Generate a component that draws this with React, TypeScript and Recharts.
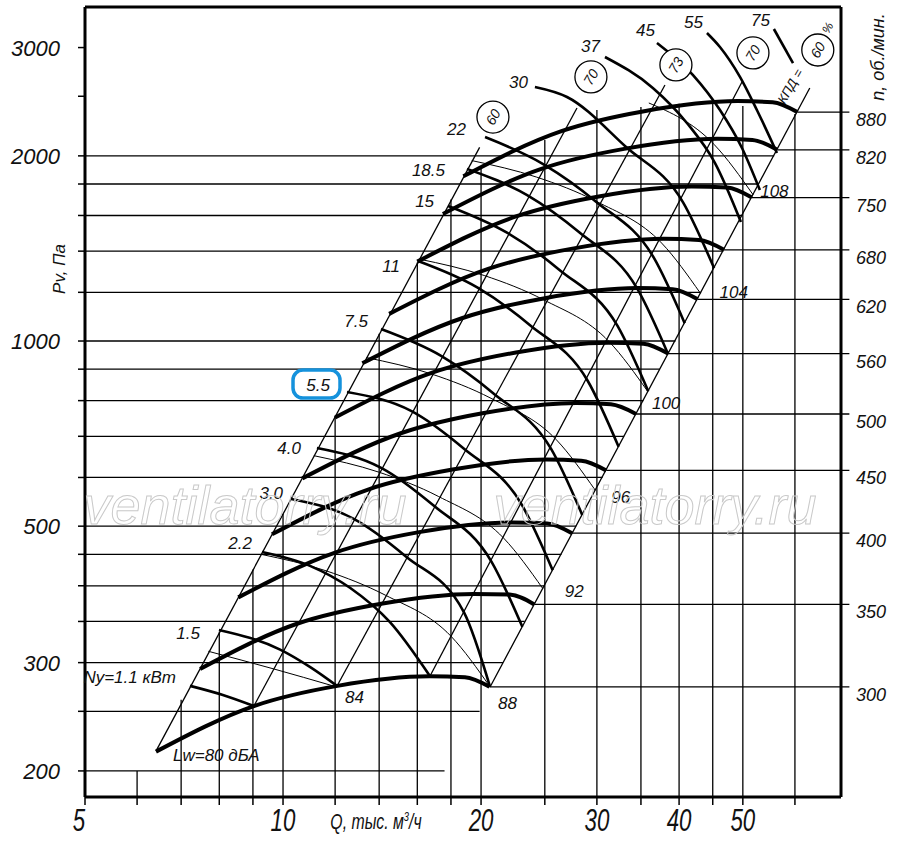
import React from 'react';
import { LineChart, Line, XAxis, YAxis, ReferenceLine, ReferenceDot } from 'recharts';

const FONT = "'Liberation Sans', Arial, 'DejaVu Sans', sans-serif";
const NARROW = "'Liberation Sans Narrow', 'Liberation Sans', Arial, sans-serif";

// axes
const qTicks = [5, 6, 7, 8, 9, 10, 12, 14, 16, 18, 20, 25, 30, 35, 40, 45, 50, 60];
const qLabels = [5, 10, 20, 30, 40, 50];
const pTicks = [200, 250, 300, 350, 400, 450, 500, 600, 700, 800, 900, 1000, 1200, 1400, 1600, 1800, 2000, 2500, 3000];
const pLabels = [200, 300, 500, 1000, 2000, 3000];

// grid: horizontal Pa lines (end on the right 60% line), vertical Q lines (top end)
const gridP = [200, 250, 300, 350, 400, 450, 500, 600, 700, 800, 900, 1000, 1200, 1400, 1600, 1800, 2000];
const gridPEnd = [17.6, 19.9, 21.6, 23.3, 25.0, 26.5, 27.9, 30.6, 33.0, 35.3, 37.4, 39.5, 43.2, 46.7, 49.9, 52.9, 55.8];
const gridQ = [6, 7, 8, 9, 10, 12, 14, 16, 18, 20, 25, 30, 35, 40, 45, 50, 60];
const gridQTop = [200, 261, 336, 425, 524, 755, 1028, 1342, 1699, 1911, 2122, 2375, 2401, 2430, 2430, 2410, 2339];

// rpm curves n, об./мин.
const rpm = [300, 350, 400, 450, 500, 560, 620, 680, 750, 820, 880];
const rpmQ = [
  [6.41, 9.03, 12.1, 16.7, 18.9, 20.6],
  [7.48, 10.5, 14.1, 19.5, 22.1, 24.1],
  [8.55, 12.0, 16.1, 22.3, 25.2, 27.5],
  [9.62, 13.5, 18.1, 25.1, 28.4, 31.0],
  [10.7, 15.1, 20.1, 27.9, 31.5, 34.4],
  [12.0, 16.9, 22.6, 31.2, 35.3, 38.5],
  [13.2, 18.7, 25.0, 34.6, 39.1, 42.7],
  [14.5, 20.5, 27.4, 37.9, 42.9, 46.8],
  [16.0, 22.6, 30.2, 41.8, 47.3, 51.6],
  [17.5, 24.7, 33.0, 45.7, 51.7, 56.4],
  [18.8, 26.5, 35.4, 49.1, 55.5, 60.5],
];
const rpmP = [
  [215, 255, 275, 285, 284, 274],
  [293, 347, 374, 388, 387, 373],
  [383, 453, 489, 507, 505, 487],
  [485, 574, 618, 642, 639, 616],
  [598, 708, 763, 793, 789, 761],
  [751, 889, 958, 994, 990, 954],
  [920, 1089, 1174, 1219, 1214, 1169],
  [1107, 1310, 1412, 1466, 1460, 1407],
  [1346, 1594, 1718, 1783, 1776, 1711],
  [1609, 1905, 2053, 2132, 2123, 2046],
  [1853, 2194, 2364, 2455, 2445, 2356],
];

// power curves Ny, кВт
const powerN = ['1.1', '1.5', '2.2', '3.0', '4.0', '5.5', '7.5', '11', '15', '18.5', '22', '30', '37', '45', '55', '75'];
const powerQ = [
  [7.22, 8.08, 9.03],
  [7.99, 9.9, 11.0, 12.08],
  [9.29, 10.99, 12.64, 14.54, 16.73],
  [10.25, 12.81, 15.39, 18.84, 20.64],
  [11.26, 14.1, 16.94, 20.74, 23.11],
  [12.51, 15.68, 18.84, 23.06, 25.7],
  [14.09, 17.39, 20.89, 25.57, 28.49],
  [16.04, 19.76, 23.74, 29.06, 32.37],
  [17.82, 21.9, 26.32, 32.23, 35.9],
  [19.04, 23.5, 28.23, 34.55, 38.5],
  [20.28, 24.89, 29.91, 36.61, 40.79],
  [24.15, 27.02, 33.16, 40.58, 45.21],
  [30.86, 36.49, 41.11, 45.36, 49.66],
  [37.02, 42.0, 46.15, 49.85, 53.07],
  [44.1, 46.15, 49.5, 52.52, 56.34],
  [55.74, 59.6],
];
const powerP = [
  [275, 266, 255],
  [339, 315, 295, 275],
  [454, 431, 397, 349, 285],
  [554, 514, 446, 362, 274],
  [670, 622, 540, 438, 343],
  [826, 769, 668, 542, 424],
  [1046, 946, 822, 667, 522],
  [1349, 1221, 1061, 861, 673],
  [1658, 1500, 1305, 1059, 829],
  [1905, 1727, 1501, 1217, 952],
  [2146, 1938, 1685, 1366, 1069],
  [2588, 2493, 2071, 1679, 1314],
  [2896, 2579, 2262, 1947, 1562],
  [3052, 2707, 2375, 2060, 1760],
  [3168, 3006, 2688, 2375, 2022],
  [3216, 2831],
];

// noise curves Lw, дБА
const noiseL = ['84', '88', '92', '96', '100', '104', '108'];
const noiseQ = [
  [7.7, 9.68, 11.91],
  [9.26, 11.63, 14.32, 18.01, 20.64],
  [11.14, 13.99, 17.22, 21.65, 24.82],
  [13.39, 16.81, 20.71, 26.03, 29.83],
  [16.1, 20.22, 24.89, 31.3, 35.87],
  [19.36, 24.3, 29.93, 37.63, 43.12],
  [35.98, 45.24, 51.85],
];
const noiseP = [
  [313, 293, 275],
  [450, 423, 386, 331, 274],
  [651, 612, 559, 478, 396],
  [940, 884, 807, 691, 572],
  [1359, 1278, 1167, 998, 827],
  [1965, 1847, 1687, 1443, 1195],
  [2438, 2086, 1728],
];

// efficiency (КПД) lines
const effLabel = ['60', '70', '73', '70', '60'];
const effQ = [
  [6.41, 19.9],
  [9.03, 27.98],
  [12.08, 38.07],
  [16.73, 49.85],
  [20.64, 63.2],
];
const effP = [
  [215.4, 2065],
  [255, 2392],
  [274.8, 2608],
  [285.3, 2637],
  [273.8, 2579],
];
const effCircleQ = [20.85, 29.38, 39.56, 51.8, 65.0];
const effCircleP = [2313, 2688, 2811, 2940, 2973];

// label offsets (pixels, relative to the curve ends)
const powerLabelOffset = [
  [-14, -3], [-19, 9], [-10, -3], [-7, 0], [-16, 6], [-17, -1], [-13, -2], [-18, 11],
  [-14, 1], [-22, 7], [-19, -2], [-7, 1], [-5, -5], [-2, -7], [-4, -5], [-4, -3],
];
const noiseLabelOffset = [[12, 17], [8, 22], [22, 9], [16, 13], [4, 17], [19, 5], [7, 2]];

const Q_MIN = 5;
const Q_MAX = 70.5;
const P_MIN = 181.4;
const P_MAX = 3492;

const pts = (qs: number[], ps: number[]) => qs.map((q, i) => ({ q, p: ps[i] }));

const XTick = (props: any) => {
  const { x, y, payload } = props;
  if (!qLabels.includes(payload.value)) return <g />;
  const dx = payload.value === 5 ? -6 : 0;
  return (
    <text
      transform={`translate(${x + dx},${y + 24}) scale(0.72,1)`}
      textAnchor="middle"
      fontFamily={FONT}
      fontStyle="italic"
      fontSize={31}
      fill="#111"
    >
      {payload.value}
    </text>
  );
};

const YTick = (props: any) => {
  const { x, y, payload } = props;
  if (!pLabels.includes(payload.value)) return <g />;
  return (
    <text x={x - 16} y={y + 8} textAnchor="end" fontFamily={FONT} fontStyle="italic" fontSize={22} fill="#111">
      {payload.value}
    </text>
  );
};

const RpmTick = (props: any) => {
  const { x, y, index } = props;
  return (
    <text x={x + 30} y={y + 14} textAnchor="middle" fontFamily={FONT} fontStyle="italic" fontSize={18} fill="#111">
      {rpm[index]}
    </text>
  );
};

export default function App() {
  const rpmEnds = rpm.map((_, i) => rpmP[i][rpmP[i].length - 1]);
  const txt = { fontFamily: FONT, fontStyle: 'italic' as const, fill: '#111' };

  return (
    <div style={{ position: 'absolute', left: 0, top: 0, width: 900, height: 844, background: '#fff' }}>
      <LineChart width={900} height={844} margin={{ top: 0, right: 0, bottom: 0, left: 25 }}>
        <XAxis
          type="number"
          dataKey="q"
          scale="log"
          domain={[Q_MIN, Q_MAX]}
          allowDataOverflow
          ticks={qTicks}
          interval={0}
          height={47}
          tickSize={8}
          tickMargin={2}
          axisLine={{ stroke: '#000', strokeWidth: 3 }}
          tickLine={{ stroke: '#000', strokeWidth: 1.5 }}
          tick={<XTick />}
        />
        <XAxis
          xAxisId="top"
          orientation="top"
          type="number"
          scale="log"
          domain={[Q_MIN, Q_MAX]}
          allowDataOverflow
          height={7}
          tick={false}
          tickLine={false}
          axisLine={{ stroke: '#000', strokeWidth: 3 }}
        />
        <YAxis
          type="number"
          scale="log"
          domain={[P_MIN, P_MAX]}
          allowDataOverflow
          ticks={pTicks}
          interval={0}
          width={60}
          tickSize={7}
          tickMargin={2}
          axisLine={{ stroke: '#000', strokeWidth: 3 }}
          tickLine={{ stroke: '#000', strokeWidth: 1.5 }}
          tick={<YTick />}
        />
        <YAxis
          yAxisId="right"
          orientation="right"
          type="number"
          scale="log"
          domain={[P_MIN, P_MAX]}
          allowDataOverflow
          ticks={rpmEnds}
          interval={0}
          width={59}
          tickSize={0}
          tickMargin={0}
          tickLine={false}
          axisLine={{ stroke: '#000', strokeWidth: 3 }}
          tick={<RpmTick />}
        />

        {gridP.map((p, i) => (
          <ReferenceLine
            key={`gh${i}`}
            segment={[{ x: Q_MIN, y: p }, { x: gridPEnd[i], y: p }]}
            stroke="#000"
            strokeWidth={1.3}
            ifOverflow="visible"
          />
        ))}
        {gridQ.map((q, i) => (
          <ReferenceLine
            key={`gv${i}`}
            segment={[{ x: q, y: P_MIN }, { x: q, y: gridQTop[i] }]}
            stroke="#000"
            strokeWidth={1.3}
            ifOverflow="visible"
          />
        ))}
        {rpmEnds.map((p, i) => (
          <ReferenceLine
            key={`rl${i}`}
            segment={[{ x: rpmQ[i][rpmQ[i].length - 1], y: p }, { x: 72.6, y: p }]}
            stroke="#000"
            strokeWidth={1.3}
            ifOverflow="visible"
          />
        ))}

        {effQ.map((qs, i) => (
          <Line
            key={`eff${i}`}
            data={pts(qs, effP[i])}
            dataKey="p"
            type="linear"
            stroke="#000"
            strokeWidth={1.3}
            dot={false}
            isAnimationActive={false}
          />
        ))}
        {noiseQ.map((qs, i) => (
          <Line
            key={`lw${i}`}
            data={pts(qs, noiseP[i])}
            dataKey="p"
            type="monotone"
            stroke="#000"
            strokeWidth={1}
            dot={false}
            isAnimationActive={false}
          />
        ))}
        {powerQ.map((qs, i) => (
          <Line
            key={`ny${i}`}
            data={pts(qs, powerP[i])}
            dataKey="p"
            type="monotone"
            stroke="#000"
            strokeWidth={2.6}
            dot={false}
            isAnimationActive={false}
          />
        ))}
        {rpmQ.map((qs, i) => (
          <Line
            key={`n${i}`}
            data={pts(qs, rpmP[i])}
            dataKey="p"
            type="monotone"
            stroke="#000"
            strokeWidth={4}
            dot={false}
            isAnimationActive={false}
          />
        ))}

        {effCircleQ.map((q, i) => (
          <ReferenceDot
            key={`ec${i}`}
            x={q}
            y={effCircleP[i]}
            r={16}
            ifOverflow="visible"
            shape={(s: any) => (
              <g>
                <circle cx={s.cx} cy={s.cy} r={16} fill="#fff" stroke="#000" strokeWidth={1.3} />
                <text
                  transform={`rotate(-60 ${s.cx} ${s.cy})`}
                  x={s.cx}
                  y={s.cy + 5}
                  textAnchor="middle"
                  fontSize={14}
                  {...txt}
                >
                  {effLabel[i]}
                </text>
                {i === effLabel.length - 1 && (
                  <>
                    <text
                      transform={`rotate(-60 ${s.cx + 10} ${s.cy - 22})`}
                      x={s.cx + 10}
                      y={s.cy - 18}
                      textAnchor="middle"
                      fontSize={12}
                      {...txt}
                    >
                      %
                    </text>
                    <text
                      transform={`rotate(-60 ${s.cx - 28} ${s.cy + 36})`}
                      x={s.cx - 28}
                      y={s.cy + 41}
                      textAnchor="middle"
                      fontSize={13}
                      {...txt}
                    >
                      КПД =
                    </text>
                  </>
                )}
              </g>
            )}
          />
        ))}

        {powerN.map((n, i) => (
          <ReferenceDot
            key={`nyl${i}`}
            x={powerQ[i][0]}
            y={powerP[i][0]}
            r={0}
            ifOverflow="visible"
            shape={(s: any) => (
              <g>
                {n === '5.5' && (
                  <rect
                    x={s.cx - 54}
                    y={s.cy - 22}
                    width={47}
                    height={28}
                    rx={10}
                    fill="none"
                    stroke="#1592dc"
                    strokeWidth={3.5}
                  />
                )}
                <text
                  x={s.cx + powerLabelOffset[i][0]}
                  y={s.cy + powerLabelOffset[i][1]}
                  textAnchor="end"
                  fontSize={17}
                  {...txt}
                >
                  {i === 0 ? `Ny=${n} кВт` : n}
                </text>
              </g>
            )}
          />
        ))}

        {noiseL.map((l, i) => {
          const k = noiseQ[i].length - 1;
          return (
            <ReferenceDot
              key={`lwl${i}`}
              x={noiseQ[i][k]}
              y={noiseP[i][k]}
              r={0}
              ifOverflow="visible"
              shape={(s: any) => (
                <text
                  x={s.cx + noiseLabelOffset[i][0]}
                  y={s.cy + noiseLabelOffset[i][1]}
                  textAnchor="start"
                  fontSize={17}
                  {...txt}
                >
                  {l}
                </text>
              )}
            />
          );
        })}
        <ReferenceDot
          x={rpmQ[0][0]}
          y={rpmP[0][0]}
          r={0}
          ifOverflow="visible"
          shape={(s: any) => (
            <text x={s.cx + 17} y={s.cy + 9} textAnchor="start" fontSize={17} {...txt}>
              Lw=80 дБА
            </text>
          )}
        />
      </LineChart>

      <svg
        width={900}
        height={844}
        style={{ position: 'absolute', left: 0, top: 0, pointerEvents: 'none' }}
      >
        <g fontFamily={FONT} fontStyle="italic" fill="none" stroke="#c9c9c9" strokeWidth={1} fontSize={54}>
          <text x={245} y={524} textAnchor="middle">ventilatorry.ru</text>
          <text x={655} y={524} textAnchor="middle">ventilatorry.ru</text>
        </g>
        <text transform="translate(65,269) rotate(-90)" textAnchor="middle" fontFamily={FONT} fontStyle="italic" fontSize={17} fill="#111">
          Pv, Па
        </text>
        <text transform="translate(884,57) rotate(-90)" textAnchor="middle" fontFamily={FONT} fontStyle="italic" fontSize={18} fill="#111">
          n, об./мин.
        </text>
        <text transform="translate(376,829) scale(0.72,1)" textAnchor="middle" fontFamily={NARROW} fontStyle="italic" fontSize={22} fill="#111">
          Q, тыс. м<tspan fontSize={13} dy={-8}>3</tspan>
          <tspan dy={8}>/ч</tspan>
        </text>
      </svg>
    </div>
  );
}
